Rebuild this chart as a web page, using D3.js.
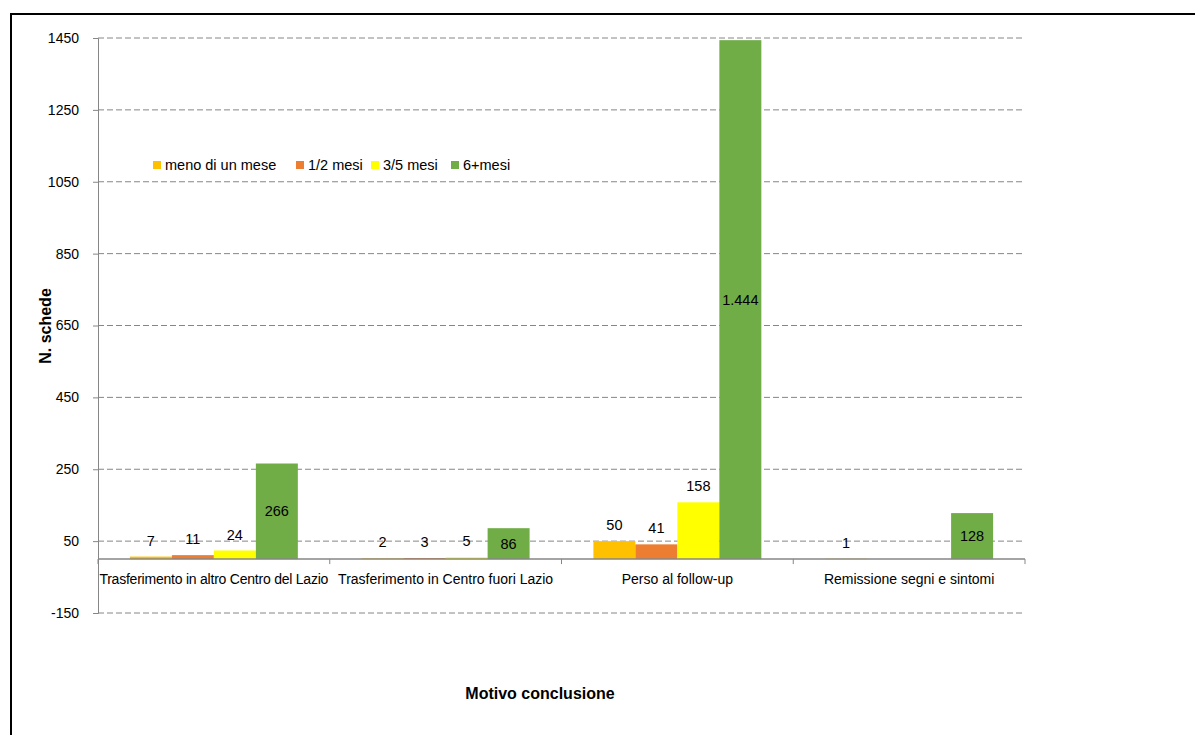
<!DOCTYPE html>
<html>
<head>
<meta charset="utf-8">
<script src="https://cdn.jsdelivr.net/npm/d3@7"></script>
<style>
  html, body { margin: 0; padding: 0; background: #fff; }
  svg { display: block; }
  text { font-family: "Liberation Sans", Arial, sans-serif; fill: #000; }
</style>
</head>
<body>
<svg id="chart" width="1195" height="735"></svg>
<script>
// Categories (motivo conclusione) and duration series
const categories = [
  "Trasferimento in altro Centro del Lazio",
  "Trasferimento in Centro fuori Lazio",
  "Perso al follow-up",
  "Remissione segni e sintomi"
];
const seriesNames = ["meno di un mese", "1/2 mesi", "3/5 mesi", "6+mesi"];
const meno1 = [7, 2, 50, 1];
const mesi12 = [11, 3, 41, null];
const mesi35 = [24, 5, 158, null];
const mesi6 = [266, 86, 1444, 128];
const yTicks = [-150, 50, 250, 450, 650, 850, 1050, 1250, 1450];
const colors = ["#FFC000", "#ED7D31", "#FFFF00", "#70AD47"];

const seriesValues = [meno1, mesi12, mesi35, mesi6];
// Italian thousands separator for data labels
const fmt = v => v >= 1000 ? d3.format(",")(v).replace(/,/g, ".") : String(v);

const svg = d3.select("#chart");

// Outer frame
svg.append("path")
  .attr("d", "M11,740 L11,14 L1200,14")
  .attr("fill", "none").attr("stroke", "#000").attr("stroke-width", 2);

const x0 = 98, x1 = 1025, yTop = 38, yBot = 613;

const y = d3.scaleLinear().domain([-150, 1450]).range([yBot, yTop]);
const x = d3.scaleBand().domain(categories).range([x0, x1]).padding(0);
const xs = d3.scaleBand().domain(seriesNames)
  .range([0, x.bandwidth()]).paddingInner(0).paddingOuter(0.76);

// Gridlines
svg.append("g").selectAll("line").data(yTicks).join("line")
  .attr("x1", x0).attr("x2", x1)
  .attr("y1", d => y(d)).attr("y2", d => y(d))
  .attr("stroke", "#868686").attr("stroke-width", 1)
  .attr("stroke-dasharray", "6,3");

// Y axis
const yAxis = svg.append("g").attr("transform", `translate(${x0},0)`)
  .call(d3.axisLeft(y).tickValues(yTicks).tickFormat(d => String(d))
    .tickSize(5).tickPadding(14));
yAxis.select(".domain").attr("stroke", "#868686");
yAxis.selectAll(".tick line").attr("stroke", "#868686");
yAxis.selectAll(".tick text").attr("font-size", 14)
  .attr("font-family", "Liberation Sans, Arial, sans-serif").attr("fill", "#000");

// Bars
const groups = svg.append("g").selectAll("g").data(categories).join("g")
  .attr("transform", d => `translate(${x(d)},0)`);

groups.each(function (cat, ci) {
  const g = d3.select(this);
  seriesNames.forEach((s, si) => {
    const v = seriesValues[si][ci];
    if (v === null) return;
    const bx = xs(s), bw = xs.bandwidth();
    g.append("rect")
      .attr("x", bx).attr("width", bw)
      .attr("y", y(v)).attr("height", y(0) - y(v))
      .attr("fill", colors[si]);
    const inside = si === 3;
    g.append("text")
      .attr("x", bx + bw / 2)
      .attr("y", inside ? (y(v) + y(0)) / 2 : y(v) - 16)
      .attr("dy", "0.35em")
      .attr("text-anchor", "middle")
      .attr("font-size", 14.5)
      .text(fmt(v));
  });
});

// Category axis at zero
const xAxis = svg.append("g").attr("transform", `translate(0,${y(0)})`);
xAxis.append("line").attr("x1", x0).attr("x2", x1)
  .attr("stroke", "#868686").attr("stroke-width", 1.5);
const boundaries = categories.map(c => x(c)).concat([x1]);
xAxis.selectAll("line.tk").data(boundaries).join("line").attr("class", "tk")
  .attr("x1", d => d).attr("x2", d => d).attr("y1", 0).attr("y2", 5)
  .attr("stroke", "#868686");
xAxis.selectAll("text").data(categories).join("text")
  .attr("x", d => x(d) + x.bandwidth() / 2)
  .attr("y", 20)
  .attr("dy", "0.35em")
  .attr("text-anchor", "middle")
  .attr("font-size", 14)
  .attr("textLength", (d, i) => i === 0 ? 229 : null)
  .text(d => d);

// Legend
const legendX = [153, 296, 371, 451];
const legend = svg.append("g");
seriesNames.forEach((s, i) => {
  legend.append("rect").attr("x", legendX[i]).attr("y", 161)
    .attr("width", 8).attr("height", 8).attr("fill", colors[i]);
  legend.append("text").attr("x", legendX[i] + 12).attr("y", 165)
    .attr("dy", "0.35em").attr("font-size", 14.5).text(s);
});

// Axis titles
svg.append("text")
  .attr("transform", `translate(45,326) rotate(-90)`)
  .attr("text-anchor", "middle").attr("dy", "0.35em")
  .attr("font-size", 16).attr("font-weight", "bold")
  .attr("font-family", "Open Sans, Liberation Sans, sans-serif")
  .text("N. schede");
svg.append("text")
  .attr("x", 540).attr("y", 693)
  .attr("text-anchor", "middle").attr("dy", "0.35em")
  .attr("font-size", 16).attr("font-weight", "bold")
  .attr("font-family", "Open Sans, Liberation Sans, sans-serif")
  .text("Motivo conclusione");
</script>
</body>
</html>
